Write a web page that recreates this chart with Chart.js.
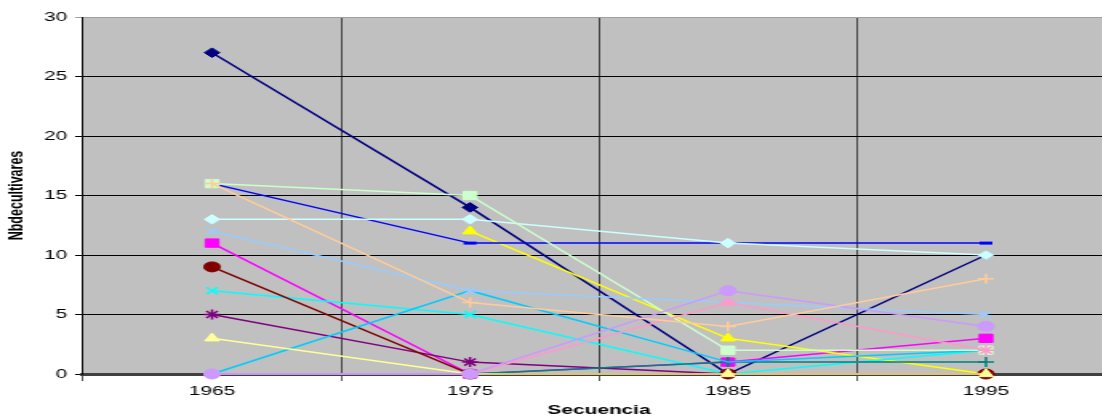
<!DOCTYPE html>
<html>
<head>
<meta charset="utf-8">
<script src="https://cdn.jsdelivr.net/npm/chart.js@4/dist/chart.umd.min.js"></script>
<style>
	body { margin: 0; overflow: hidden; background: #fff; }
	canvas { display: block; }
</style>
</head>
<body>
<canvas id="cultivares-canvas" width="706" height="418" style="width:1130px;height:418px"></canvas>
<script>
// Datos
const years = ['1965', '1975', '1985', '1995'];
const yTicks = [0, 5, 10, 15, 20, 25, 30];

const serie1 = [27, 14, 0, 10];
const serie2 = [11, 0, 1, 3];
const serie3 = [null, 12, 3, 0];
const serie4 = [7, 5, 0, 2];
const serie5 = [5, 1, 0, 0];
const serie6 = [9, 0, 0, 0];
const serie7 = [0, 0, 1, 1];
const serie8 = [16, 11, 11, 11];
const serie9 = [0, 7, 1, 2];
const serie10 = [13, 13, 11, 10];
const serie11 = [16, 15, 2, 2];
const serie12 = [3, 0, 0, 0];
const serie13 = [12, 7, 6, 5];
const serie14 = [0, 0, 6, 2];
const serie15 = [0, 0, 7, 4];
const serie16 = [16, 6, 4, 8];

// Chart
(function () {
	const ctx = document.getElementById('cultivares-canvas');

	// excel 2003 colores y marcadores
	const series = [
		{ data: serie1, color: '#000080', marker: 'rectRot', r: 4.8 },
		{ data: serie2, color: '#FF00FF', marker: 'rect', r: 5.9 },
		{ data: serie3, color: '#FFFF00', marker: 'triangle', r: 5.3 },
		{ data: serie4, color: '#00FFFF', marker: 'crossRot', r: 5 },
		{ data: serie5, color: '#800080', marker: 'star', r: 5 },
		{ data: serie6, color: '#800000', marker: 'circle', r: 5 },
		{ data: serie7, color: '#008080', marker: 'cross', r: 5 },
		{ data: serie8, color: '#0000FF', marker: 'line', r: 4 },
		{ data: serie9, color: '#00CCFF', marker: 'line', r: 0 },
		{ data: serie10, color: '#CCFFFF', marker: 'rectRot', r: 4.8 },
		{ data: serie11, color: '#CCFFCC', marker: 'rect', r: 5.9 },
		{ data: serie12, color: '#FFFF99', marker: 'triangle', r: 5.3 },
		{ data: serie13, color: '#99CCFF', marker: 'crossRot', r: 5 },
		{ data: serie14, color: '#FF99CC', marker: 'star', r: 5 },
		{ data: serie15, color: '#CC99FF', marker: 'circle', r: 5 },
		{ data: serie16, color: '#FFCC99', marker: 'cross', r: 5 }
	];

	const datasets = series.map((s, index) => {
		const thinMarker = ['crossRot', 'star', 'cross', 'line'].includes(s.marker);
		return {
			label: 'Serie' + (index + 1),
			data: s.data,
			borderColor: s.color,
			backgroundColor: s.color,
			borderWidth: 1.5,
			pointStyle: s.marker,
			pointRadius: s.r,
			pointBorderColor: s.color,
			pointBackgroundColor: s.color,
			pointBorderWidth: s.marker == 'line' ? 3 : (thinMarker ? 1.5 : 1),
			tension: 0,
			spanGaps: false,
			clip: false,
			order: -index
		};
	});

	const plotBackground = {
		id: 'plotBackground',
		beforeDraw (chart) {
			const a = chart.chartArea;
			chart.ctx.save();
			chart.ctx.fillStyle = '#C0C0C0';
			chart.ctx.fillRect(a.left, a.top, a.right - a.left, a.bottom - a.top);
			chart.ctx.restore();
		}
	};

	new Chart(ctx, {
		type: 'line',
		data: {
			labels: years,
			datasets: datasets
		},
		options: {
			responsive: false,
			animation: false,
			events: [],
			layout: { padding: { left: 0, top: 17, right: 9.4, bottom: 0 } },
			plugins: {
				legend: { display: false },
				tooltip: { enabled: false }
			},
			scales: {
				x: {
					offset: true,
					afterFit (scale) { scale.height = 44; },
					grid: { offset: true, color: '#000', lineWidth: 0.65, tickLength: 7 },
					border: { color: '#404040', width: 3 },
					ticks: { color: '#000', padding: 3, font: { family: 'Liberation Sans, Arial', size: 13 } },
					title: {
						display: true,
						text: 'Secuencia',
						color: '#000',
						padding: { top: 0, bottom: 0 },
						font: { family: 'Liberation Sans, Arial', size: 13, weight: 'bold' }
					}
				},
				y: {
					min: 0,
					max: 30,
					afterFit (scale) { scale.width = 51.9; },
					afterBuildTicks (scale) { scale.ticks = yTicks.map(v => ({ value: v })); },
					grid: {
						color: (c) => c.tick && c.tick.value == 30 ? '#A0A0A0' : '#000',
						lineWidth: 1,
						tickLength: 5
					},
					border: { color: '#000', width: 0.8 },
					ticks: { color: '#000', padding: 5, font: { family: 'Liberation Sans, Arial', size: 13 } },
					title: {
						display: true,
						text: 'Nbdecultivares',
						color: '#000',
						padding: { top: 3, bottom: 0 },
						font: { family: 'Liberation Sans, Arial', size: 12.5, weight: 'bold' }
					}
				}
			}
		},
		plugins: [plotBackground]
	});
})();
</script>
</body>
</html>
